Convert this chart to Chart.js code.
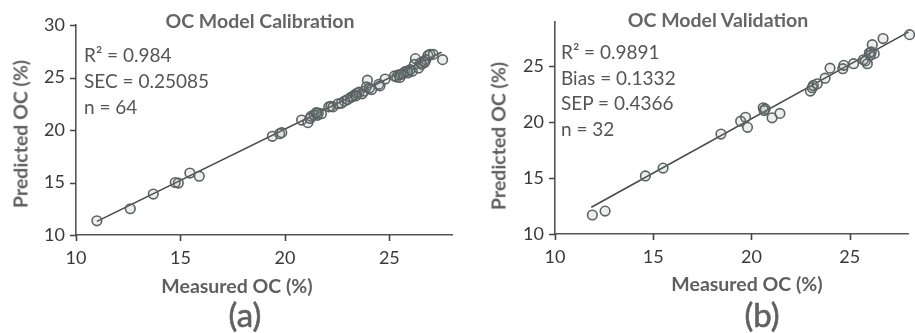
<!DOCTYPE html>
<html>
<head>
<meta charset="utf-8">
<script src="https://cdn.jsdelivr.net/npm/chart.js@4"></script>
<style>
  body { margin: 0; background: #fff; }
  #wrap { position: relative; width: 915px; height: 333px; overflow: hidden; font-family: Lato, 'Open Sans', sans-serif; color: #585858; }
  canvas { position: absolute; top: 0; }
  .txt { position: absolute; white-space: nowrap; }
  .ttl { font-weight: bold; font-size: 19.5px; color: #666; transform: translate(-50%, -50%); }
  .ax { font-weight: bold; font-size: 19.5px; color: #5f5f5f; transform: translate(-50%, -50%); }
  .axy { font-weight: bold; font-size: 19.5px; color: #5f5f5f; transform: translate(-50%, -50%) rotate(-90deg); }
  .ann { font-size: 19px; line-height: 26px; color: #555; }
  .lab { font-size: 33px; color: #606060; transform: translate(-50%, -50%); -webkit-text-stroke: 0.6px #606060; }
</style>
</head>
<body>
<div id="wrap">
  <canvas id="cal" width="460" height="333" style="left:0"></canvas>
  <canvas id="val" width="455" height="333" style="left:460px"></canvas>

  <div class="txt ttl" style="left:260px;top:20px">OC Model Calibration</div>
  <div class="txt ttl" style="left:718px;top:19px">OC Model Validation</div>

  <div class="txt ann" style="left:84px;top:42px">R² = 0.984<br>SEC = 0.25085<br>n = 64</div>
  <div class="txt ann" style="left:561px;top:39px;line-height:25.7px">R² = 0.9891<br>Bias = 0.1332<br>SEP = 0.4366<br>n = 32</div>

  <div class="txt axy" style="left:20px;top:134px">Predicted OC (%)</div>
  <div class="txt axy" style="left:498px;top:136px">Predicted OC (%)</div>
  <div class="txt ax" style="left:237px;top:285px">Measured OC (%)</div>
  <div class="txt ax" style="left:747px;top:283px">Measured OC (%)</div>

  <div class="txt lab" style="left:245px;top:314px">(a)</div>
  <div class="txt lab" style="left:762px;top:314px">(b)</div>
</div>
<script>
// calibration set (a)
var calMeasured = [
  11.0, 12.6, 13.7, 14.75, 14.9, 15.45, 15.9, 19.4, 19.75, 19.85,
  20.8, 21.1, 21.25, 21.4, 21.55, 21.6, 21.75, 22.1, 22.2, 22.3,
  22.7, 22.85, 23.0, 23.15, 23.25, 23.35, 23.45, 23.55, 23.7, 23.8,
  23.9, 23.95, 24.05, 24.5, 24.55, 24.8, 25.35, 25.45, 25.5, 25.65,
  25.75, 25.85, 25.9, 26.0, 26.1, 26.2, 26.25, 26.4, 26.5, 26.65,
  26.75, 26.85, 26.95, 27.1, 27.55, 21.2, 21.5, 22.55, 23.4, 24.15,
  25.25, 25.55, 26.55, 26.7
];
var calPredicted = [
  11.35, 12.5, 13.9, 15.0, 14.95, 15.9, 15.6, 19.4, 19.65, 19.75,
  20.95, 20.7, 21.3, 21.45, 21.4, 21.6, 21.55, 22.2, 22.25, 22.2,
  22.55, 22.75, 22.9, 23.1, 23.2, 23.35, 23.5, 23.6, 23.45, 23.7,
  24.1, 24.75, 24.0, 24.35, 24.2, 24.85, 25.05, 25.25, 25.0, 25.35,
  25.55, 25.6, 25.45, 25.75, 25.6, 26.25, 26.8, 25.9, 26.4, 26.55,
  26.7, 27.1, 27.2, 27.2, 26.7, 21.1, 21.65, 22.5, 23.25, 23.85,
  25.15, 25.3, 26.25, 26.45
];
var calFitX = [11.0, 27.5];
var calFitY = [11.3, 27.4];

// validation set (b)
var valMeasured = [
  11.9, 12.55, 14.6, 15.5, 18.45, 19.45, 19.7, 19.8, 20.6, 20.7,
  20.65, 21.05, 21.45, 23.0, 23.1, 23.15, 23.35, 23.75, 24.0, 24.65,
  24.7, 25.2, 25.7, 25.9, 26.0, 26.1, 26.15, 26.25, 26.7, 28.05,
  25.8, 26.05
];
var valPredicted = [
  11.7, 12.05, 15.2, 15.9, 18.95, 20.1, 20.45, 19.55, 21.3, 21.2,
  21.05, 20.4, 20.8, 22.8, 23.1, 23.3, 23.45, 23.95, 24.85, 24.8,
  25.1, 25.25, 25.6, 25.25, 26.2, 26.3, 26.95, 26.15, 27.5, 27.85,
  25.5, 26.0
];
var valFitX = [11.85, 28.0];
var valFitY = [12.4, 28.1];

var xTicks = [10, 15, 20, 25];
var calYTicks = [10, 15, 20, 25, 30];
var valYTicks = [10, 15, 20, 25];

var FONT = 'Lato, "Open Sans", sans-serif';

function pts(xs, ys) {
  return xs.map(function(x, i) { return { x: x, y: ys[i] }; });
}

// excel-like outside tick marks, placed by the scales
var tickMarks = {
  id: 'tickMarks',
  afterDraw: function(chart) {
    var ctx = chart.ctx, a = chart.chartArea;
    var xs = chart.scales.x, ys = chart.scales.y;
    ctx.save();
    ctx.strokeStyle = '#444';
    ctx.lineWidth = 1.6;
    ctx.beginPath();
    xs.ticks.forEach(function(t) {
      var px = Math.round(xs.getPixelForValue(t.value)) + 0.5;
      ctx.moveTo(px, a.bottom);
      ctx.lineTo(px, a.bottom + 6);
    });
    ys.ticks.forEach(function(t) {
      var py = Math.round(ys.getPixelForValue(t.value)) + 0.5;
      ctx.moveTo(a.left, py);
      ctx.lineTo(a.left - 6, py);
    });
    ctx.stroke();
    ctx.restore();
  }
};

function axis(min, max, ticks, fit, pad) {
  return {
    type: 'linear', min: min, max: max,
    afterBuildTicks: function(s) { s.ticks = ticks.map(function(v) { return { value: v }; }); },
    afterFit: fit,
    ticks: { color: '#3a3a3a', font: { family: FONT, size: 18 }, padding: pad },
    grid: { display: false, drawTicks: false },
    border: { display: true, color: '#555', width: 1.6 }
  };
}

function makeChart(id, mx, my, fx, fy, yMax, yTicks, yW, pad) {
  return new Chart(document.getElementById(id), {
    type: 'scatter',
    data: {
      datasets: [
        { data: pts(mx, my), pointRadius: 4.8, pointBorderWidth: 1.6,
          pointBorderColor: '#5a6361', pointBackgroundColor: 'rgba(130,145,140,0.15)', clip: false },
        { data: pts(fx, fy), showLine: true, pointRadius: 0, borderColor: '#4a4a4a', borderWidth: 1.6, clip: false }
      ]
    },
    options: {
      responsive: false, animation: false, devicePixelRatio: 1,
      layout: { padding: { left: 0, top: pad.top, right: pad.right, bottom: 0 } },
      plugins: { legend: { display: false }, tooltip: { enabled: false } },
      scales: {
        x: axis(10, 28, xTicks, function(s) { s.height = 333 - pad.chartBottom; }, 12),
        y: axis(10, yMax, yTicks, function(s) { s.width = yW; }, 11)
      }
    },
    plugins: [tickMarks]
  });
}

makeChart('cal', calMeasured, calPredicted, calFitX, calFitY, 30, calYTicks, 76,
  { top: 25, right: 8, chartBottom: 235 });
makeChart('val', valMeasured, valPredicted, valFitX, valFitY, 29, valYTicks, 95,
  { top: 20, right: 2, chartBottom: 234 });
</script>
</body>
</html>
